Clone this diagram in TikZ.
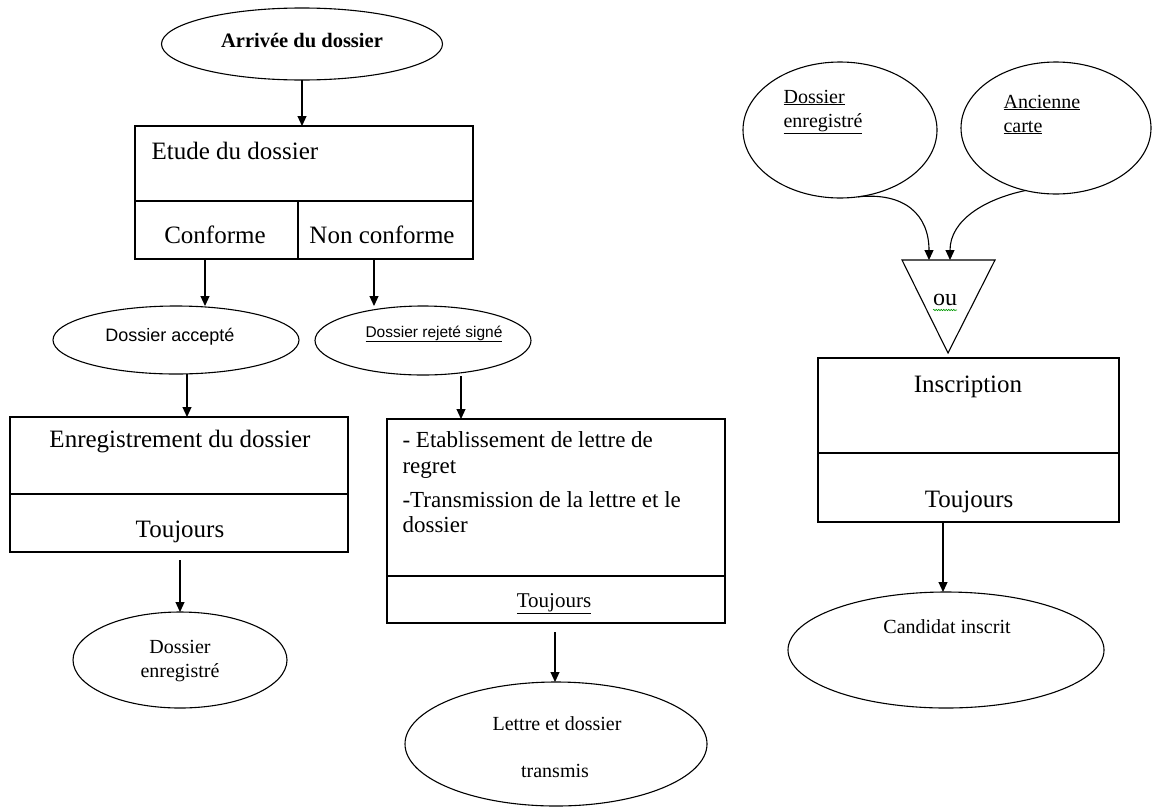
\documentclass[tikz,border=0pt]{standalone}
\usepackage{fontspec}
\setmainfont{Liberation Serif}
\setsansfont{Liberation Sans}
\usetikzlibrary{arrows.meta,shapes.geometric,decorations.pathmorphing,calc}
\newcommand\fsz[1]{\fontsize{#1}{#1}\selectfont}
\begin{document}
\begin{tikzpicture}[x=1pt,y=-1pt,line width=1.1pt,
  arrow/.style={-{Triangle[length=10pt,width=9pt]},line width=1.1pt},
  box/.style={draw,rectangle,anchor=north west,inner sep=0pt,outer sep=0pt},
  oval/.style={draw,ellipse,inner sep=0pt,outer sep=0pt},
  txt/.style={anchor=base,inner sep=0pt},
  txtl/.style={anchor=base west,inner sep=0pt},
  big/.style={font=\fsz{25}},
  mid/.style={font=\fsz{20}}]
\useasboundingbox (0,0) rectangle (1155,809);

% ---------- left column ----------
\node[oval,minimum width=281pt,minimum height=72pt] (arr) at (302,44) {};
\node[txt,font=\bfseries\fsz{20.5}] (arrt) at (302,47) {Arrivée du dossier};

\node[box,minimum width=338pt,minimum height=133pt] (etude) at (135,126) {};
\draw (etude.west |- 0,201) -- (etude.east |- 0,201);
\draw (298,201) -- (298,0 |- etude.south);
\node[txtl,big] (etudet) at (151,159) {Etude du dossier};
\node[txt,big] (conf) at (215,243) {Conforme};
\node[txt,big] (nconf) at (382,243) {Non conforme};

\node[oval,minimum width=246pt,minimum height=68pt] (acc) at (176,340) {};
\node[txt,font=\sffamily\fsz{18}] (acct) at (170,341) {Dossier accepté};

\node[oval,minimum width=216pt,minimum height=69pt] (rej) at (423,340.5) {};
\node[txt,font=\sffamily\fsz{15.5}] (rejt) at (434,337) {\underline{Dossier rejeté signé}};

\coordinate (c1) at (205,0 |- etude.south);
\coordinate (c2) at (374,0 |- etude.south);
\draw[arrow] (arr.south) -- (arr.south |- etude.north);
\draw[arrow] (c1) -- (c1 |- acc.north);
\draw[arrow] (c2) -- (c2 |- rej.north);

\node[box,minimum width=338pt,minimum height=135pt] (enr) at (10,417) {};
\draw (enr.west |- 0,494) -- (enr.east |- 0,494);
\node[txt,big] (enrt) at (180,447) {Enregistrement du dossier};
\node[txt,big] (enrtj) at (180,537) {Toujours};

\coordinate (c3) at (187,0 |- acc.south);
\draw[arrow] (c3) -- (c3 |- enr.north);

\node[oval,minimum width=214pt,minimum height=96pt] (de1) at (180,660) {};
\node[txt,mid] (de1a) at (180,653) {Dossier};
\node[txt,mid] (de1b) at (180,677) {enregistré};
\coordinate (c4) at (180,560);
\draw[arrow] (c4) -- (c4 |- de1.north);

% ---------- middle column ----------
\node[box,minimum width=338pt,minimum height=204pt] (let) at (387,419) {};
\draw (let.west |- 0,576) -- (let.east |- 0,576);
\node[txtl,font=\fsz{23}] (l1) at (402,447) {- Etablissement de lettre de};
\node[txtl,font=\fsz{23}] (l2) at (402,473) {regret};
\node[txtl,font=\fsz{23}] (l3) at (402,507) {-Transmission de la lettre et le};
\node[txtl,font=\fsz{23}] (l4) at (402,532) {dossier};
\node[txt,font=\fsz{21}] (lettj) at (554,607) {\underline{Toujours}};

\coordinate (c5) at (461,376);
\draw[arrow] (c5) -- (c5 |- let.north);

\node[oval,minimum width=302pt,minimum height=124pt] (lt) at (556,744) {};
\node[txt,mid] (lta) at (557,730) {Lettre et dossier};
\node[txt,mid] (ltb) at (555,777) {transmis};
\coordinate (c6) at (555,632);
\draw[arrow] (c6) -- (c6 |- lt.north);

% ---------- right column ----------
\node[oval,minimum width=194pt,minimum height=136pt] (de2) at (840,130) {};
\node[txtl,mid] (de2a) at (783,103) {\underline{Dossier}};
\node[txtl,mid] (de2b) at (783,127) {\underline{enregistré}};

\node[oval,minimum width=190pt,minimum height=132pt] (anc) at (1056,128) {};
\node[txtl,mid] (anca) at (1003,108) {\underline{Ancienne}};
\node[txtl,mid] (ancb) at (1003,132) {\underline{carte}};

\coordinate (tl) at (902,260);
\coordinate (tr) at (995,260);
\coordinate (tb) at (948,353);
\draw (tl) -- (tr) -- (tb) -- cycle;
\node[txt,font=\fsz{24}] (ou) at (945,305) {ou};
\draw[green!60!black,line width=0.6pt,decorate,decoration={snake,amplitude=0.7pt,segment length=2.5pt}] (933,310) -- (957,310);

\coordinate (in1) at (929,260);
\coordinate (in2) at (950,260);
\draw[arrow] (de2.-75) .. controls (905,192) and (929,215) .. (in1);
\draw[arrow] (anc.-116) .. controls (985,199) and (950,220) .. (in2);

\node[box,minimum width=301pt,minimum height=164pt] (ins) at (818,358) {};
\draw (ins.west |- 0,453) -- (ins.east |- 0,453);
\node[txt,big] (inst) at (968,392) {Inscription};
\node[txt,big] (instj) at (969,507) {Toujours};

\node[oval,minimum width=316pt,minimum height=116pt] (cand) at (946,650) {};
\node[txt,mid] (candt) at (947,633) {Candidat inscrit};
\coordinate (c7) at (943,0 |- ins.south);
\draw[arrow] (c7) -- (c7 |- cand.north);
\end{tikzpicture}
\end{document}
